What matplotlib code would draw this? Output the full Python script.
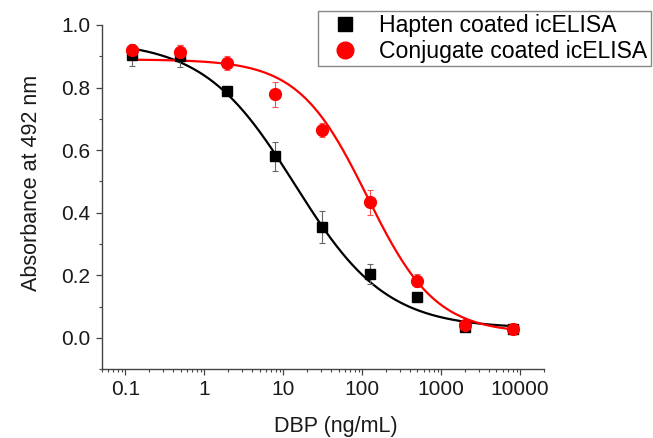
import numpy as np
import matplotlib
matplotlib.use("Agg")
import matplotlib.pyplot as plt
from matplotlib.ticker import LogLocator, FixedLocator, MultipleLocator, FuncFormatter
from matplotlib.lines import Line2D

plt.rcParams["font.family"] = ["Liberation Sans", "DejaVu Sans"]

# DBP concentrations (ng/mL), 4-fold dilution series
conc = [0.122, 0.488, 1.95, 7.81, 31.25, 125, 500, 2000, 8000]

# Hapten coated icELISA
hapten_y = [0.905, 0.900, 0.790, 0.580, 0.355, 0.203, 0.132, 0.035, 0.030]
hapten_err = [0.035, 0.035, 0.008, 0.047, 0.052, 0.032, 0.010, 0.008, 0.008]

# Conjugate coated icELISA
conj_y = [0.920, 0.915, 0.878, 0.778, 0.665, 0.433, 0.183, 0.040, 0.028]
conj_err = [0.012, 0.022, 0.022, 0.040, 0.022, 0.040, 0.020, 0.008, 0.008]

# four-parameter logistic fits (top, bottom, IC50, slope)
hapten_fit = (0.95, 0.030, 14.0, 0.75)
conj_fit = (0.89, 0.015, 115.0, 1.0)


def logistic4(x, top, bottom, ic50, slope):
    return bottom + (top - bottom) / (1 + (x / ic50) ** slope)


fig = plt.figure(figsize=(6.53, 4.38), dpi=100)
ax = fig.add_axes([0.1557, 0.157, 0.6773, 0.786])

xs = np.logspace(np.log10(conc[0]), np.log10(conc[-1]), 300)

ax.plot(xs, logistic4(xs, *hapten_fit), color="black", lw=1.6, zorder=2)
ax.plot(xs, logistic4(xs, *conj_fit), color="#ff0000", lw=1.6, zorder=2)

ax.errorbar(conc, hapten_y, yerr=hapten_err, fmt="none", ecolor="#666666",
            elinewidth=0.8, capsize=2.5, capthick=0.8, zorder=3)
ax.errorbar(conc, conj_y, yerr=conj_err, fmt="none", ecolor="#ff5050",
            elinewidth=0.8, capsize=2.5, capthick=0.8, zorder=3)

ax.plot(conc, hapten_y, "s", color="black", ms=7.5, zorder=4)
ax.plot(conc, conj_y, "o", color="#ff0000", ms=8.5, zorder=5)

ax.set_xscale("log")
ax.set_xlim(0.05, 20000)
ax.set_ylim(-0.1, 1.0)

ax.xaxis.set_major_locator(FixedLocator([0.1, 1, 10, 100, 1000, 10000]))
ax.xaxis.set_major_formatter(FuncFormatter(lambda v, p: f"{v:g}"))
ax.xaxis.set_minor_locator(LogLocator(base=10, subs=np.arange(2, 10), numticks=20))
ax.yaxis.set_major_locator(FixedLocator([0.0, 0.2, 0.4, 0.6, 0.8, 1.0]))
ax.yaxis.set_major_formatter(FuncFormatter(lambda v, p: f"{v:.1f}"))
ax.yaxis.set_minor_locator(MultipleLocator(0.1))

for s in ["top", "right"]:
    ax.spines[s].set_visible(False)
for s in ["left", "bottom"]:
    ax.spines[s].set_color("#444444")
    ax.spines[s].set_linewidth(1.0)

ax.tick_params(which="major", direction="out", length=4, width=0.9,
               color="#444444", labelsize=15, labelcolor="#1a1a1a", pad=4)
ax.tick_params(which="minor", direction="out", length=2.5, width=0.8,
               color="#444444")

ax.set_xlabel("DBP (ng/mL)", fontsize=15.5, color="#1a1a1a")
ax.set_ylabel("Absorbance at 492 nm", fontsize=15.5, color="#1a1a1a")
ax.xaxis.set_label_coords(0.53, -0.135)
ax.yaxis.set_label_coords(-0.135, 0.54)

handles = [
    Line2D([], [], marker="s", color="black", linestyle="None", ms=10,
           label="Hapten coated icELISA"),
    Line2D([], [], marker="o", color="#ff0000", linestyle="None", ms=12,
           label="Conjugate coated icELISA"),
]
leg = fig.legend(handles=handles, loc="upper left",
                 bbox_to_anchor=(318 / 653, 1 - 11 / 438),
                 fontsize=16.6, frameon=True, fancybox=False,
                 edgecolor="#888888", framealpha=1, borderpad=0.15,
                 labelspacing=0.1, handletextpad=0.5, handlelength=2.0,
                 borderaxespad=0)
leg.get_frame().set_linewidth(1.0)

fig.savefig("out.png", dpi=100)
